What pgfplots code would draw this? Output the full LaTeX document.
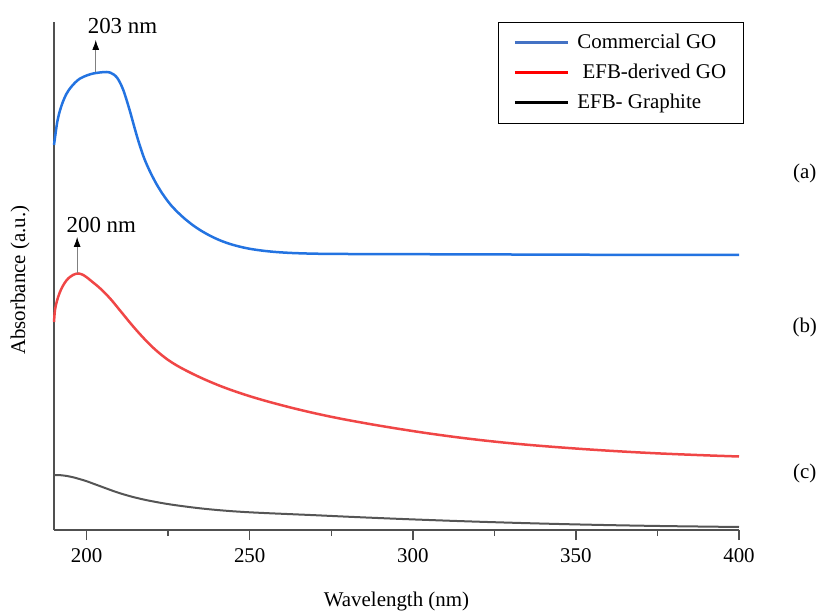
\documentclass[border=0pt]{standalone}
\usepackage{fontspec}
\setmainfont{Liberation Serif}
\usepackage{pgfplots}
\pgfplotsset{compat=1.18}
\usetikzlibrary{arrows.meta}

\definecolor{cgoblue}{RGB}{35,115,225}
\definecolor{efbred}{RGB}{240,70,70}
\definecolor{graphitegray}{RGB}{85,85,85}
\definecolor{legblue}{RGB}{68,114,196}
\definecolor{legred}{RGB}{255,0,0}
\definecolor{axisgray}{RGB}{80,80,80}
\newcommand\chartfont{\fontsize{10.5}{12.6}\selectfont}
\newcommand\peakfont{\fontsize{11.5}{13.8}\selectfont}

\begin{document}
\begin{tikzpicture}
\begin{axis}[
  scale only axis,
  width=342.5bp, height=254bp,
  xmin=190, xmax=400, ymin=0, ymax=508,
  axis lines=left,
  axis line style={-, draw=axisgray, line width=0.75bp},
  clip=false,
  xtick={200,250,300,350,400},
  minor xtick={225,275,325,375},
  ytick=\empty,
  tick align=outside,
  major tick length=5bp,
  minor tick length=3bp,
  tick style={draw=axisgray, line width=0.75bp},
  /pgf/number format/assume math mode=true,
  ticklabel style={font=\chartfont},
  xticklabel style={yshift=-1bp},
  xlabel={Wavelength (nm)},
  ylabel={Absorbance (a.u.)},
  label style={font=\chartfont},
  xlabel style={at={(axis description cs:0.5,-0.141)}, anchor=center},
  ylabel style={at={(axis description cs:-0.0496,0.492)}, anchor=center},
  legend cell align=left,
  legend image code/.code={\draw[#1] (0bp,0bp) -- (26.5bp,0bp);},
  legend style={
    at={(axis description cs:0.648,1)}, anchor=north west,
    draw=black, line width=0.5bp, fill=white,
    font=\chartfont,
    inner xsep=7.5bp, inner ysep=4bp,
    row sep=2.5bp,
    nodes={inner sep=1bp, text height=8bp, text depth=2.5bp},
    /tikz/every odd column/.append style={column sep=3bp},
  },
]
\addlegendimage{legblue, line width=1.5bp}
\addlegendentry{Commercial GO}
\addlegendimage{legred, line width=1.5bp}
\addlegendentry{\ EFB-derived GO}
\addlegendimage{black, line width=1.5bp}
\addlegendentry{EFB- Graphite}

% (a) commercial graphene oxide
\addplot[forget plot, cgoblue, line width=1.25bp, smooth] coordinates {
(190,385) (190.5,397) (191,408) (191.7,418) (192.7,428) (193.8,436)
(195,442) (196.5,447.5) (198,451.5) (200,454.5) (202,456.5) (204,457.5)
(206,458) (207.3,457.3) (208.3,455.5) (209.3,452.5) (210.3,447)
(211.3,439.5) (212.3,429.5) (213.4,417.5) (214.5,404.5) (215.5,393)
(216.5,382.5) (217.5,373) (218.5,365) (219.5,358) (220.5,351.5)
(221.5,345.5) (223,337.5) (224.5,330.5) (226,324.3) (228,317.5)
(230,311.5) (232.5,305) (235,299.5) (238,294) (241,289.5) (244,286)
(247,283.3) (250,281.2) (254,279.3) (258,278) (263,277) (270,276.3)
(280,276) (300,275.8) (330,275.5) (360,275.2) (400,275)
};

% (b) EFB-derived graphene oxide
\addplot[forget plot, efbred, line width=1.25bp, smooth] coordinates {
(190,208) (190.3,220) (190.9,229) (191.7,237) (192.7,244) (193.8,249.5)
(194.8,252.8) (195.8,255) (196.7,256.2) (197.6,256.5) (199,255)
(200.5,251.5) (202,247.5) (203.5,243.5) (205,239) (206.5,234)
(208,228.5) (209.5,222.5) (211,216.5) (213,208.5) (215,200.8)
(217.5,191.8) (220,183.5) (222.5,176.3) (225,170) (227.5,164.8)
(230,160.3) (233.5,154.6) (237,149.4) (241,144) (245,139.2)
(250,133.8) (255,129) (260,124.6) (265,120.5) (270,116.7) (275,113.2)
(280,110) (288,105.3) (296,101) (304,97) (312,93.4) (320,90.2)
(328,87.4) (336,85) (344,82.9) (352,81) (360,79.3) (368,77.8)
(376,76.5) (384,75.4) (392,74.4) (400,73.5)
};

% (c) EFB graphite
\addplot[forget plot, graphitegray, line width=1bp, smooth] coordinates {
(190,55) (192,54.8) (194,54) (196,52.6) (198,50.8) (200,48.8)
(202,46.4) (204,44) (206,41.6) (208,39.2) (210,37) (212,35)
(214,33.2) (216,31.6) (218,30.1) (220,28.8) (223,27) (226,25.4)
(230,23.6) (235,21.6) (240,20) (245,18.7) (250,17.7) (255,16.9)
(260,16.2) (270,14.8) (280,13.3) (290,11.9) (300,10.6) (310,9.4)
(320,8.3) (330,7.3) (340,6.4) (350,5.6) (360,4.9) (370,4.3)
(380,3.8) (390,3.4) (400,3)
};

% peak markers
\draw[gray, line width=0.4bp, -{Latex[black, length=5bp, width=3.5bp]}]
  (axis cs:202.8,458) -- (axis cs:202.8,490);
\node[font=\peakfont] at (axis cs:211,504) {203 nm};
\draw[gray, line width=0.4bp, -{Latex[black, length=5bp, width=3.5bp]}]
  (axis cs:197.1,257) -- (axis cs:197.1,293);
\node[font=\peakfont] at (axis cs:204.5,305) {200 nm};

% curve tags
\node[font=\chartfont] at (axis description cs:1.096,0.701) {(a)};
\node[font=\chartfont] at (axis description cs:1.096,0.3996) {(b)};
\node[font=\chartfont] at (axis description cs:1.096,0.112) {(c)};
\end{axis}
\pgfresetboundingbox
\useasboundingbox ([xshift=-27bp,yshift=-41bp]current axis.south west)
  rectangle ([xshift=42.5bp,yshift=11bp]current axis.north east);
\end{tikzpicture}
\end{document}
